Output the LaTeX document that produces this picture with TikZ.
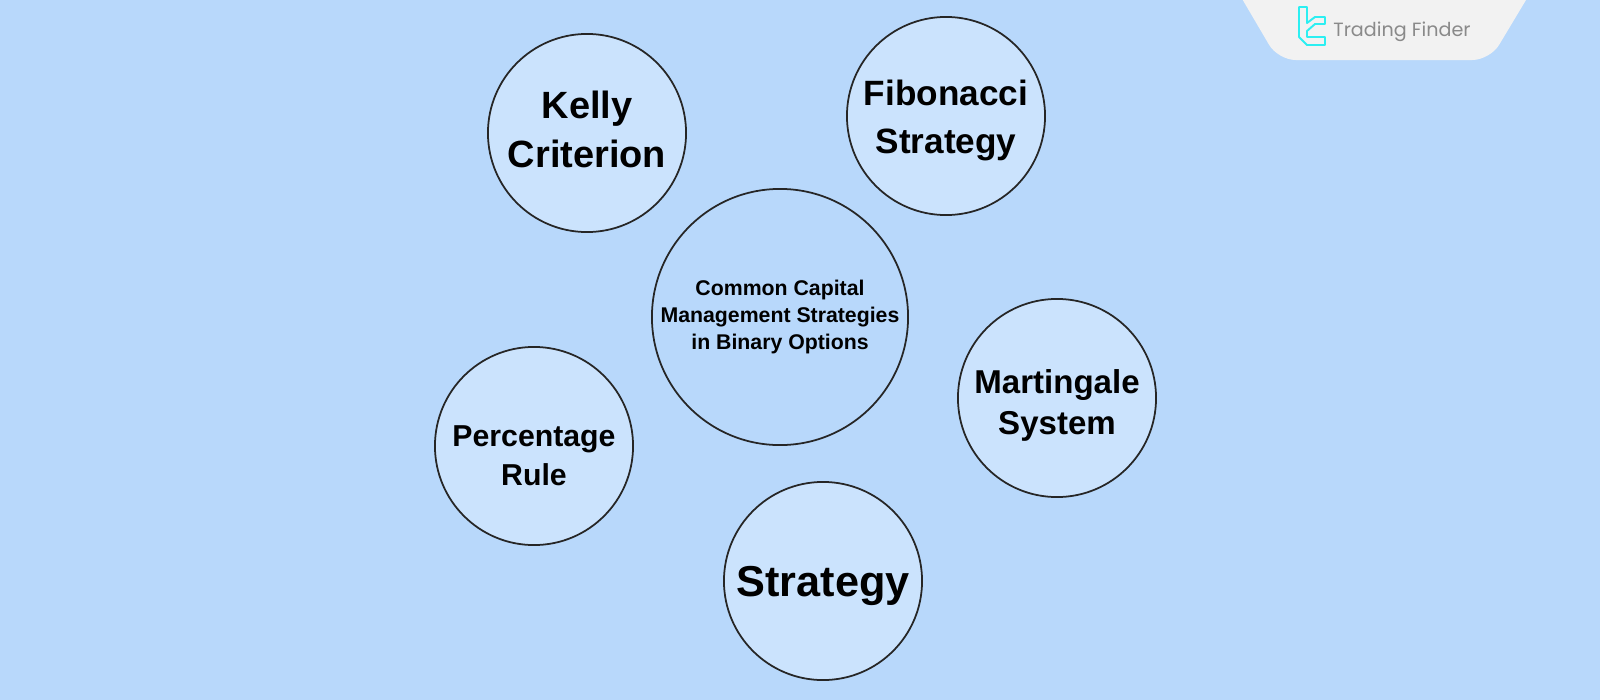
\documentclass[tikz,border=0pt]{standalone}
\usepackage{fontspec}
\setmainfont{Liberation Sans}
\newfontfamily\logofont{Poppins}
\definecolor{skyback}{HTML}{B8D8FB}
\definecolor{circlefill}{HTML}{CBE3FD}
\definecolor{panelgrey}{HTML}{F2F2F2}
\definecolor{logocyan}{HTML}{2CEFF2}
\definecolor{logotext}{HTML}{8A8A8A}

\begin{document}
\begin{tikzpicture}[
    x=0.01cm, y=-0.01cm,
    strategy/.style={circle, draw=black!85, line width=0.5pt, fill=circlefill, minimum size=1.98cm, inner sep=0pt, align=center, text depth=0pt},
    hub/.style={circle, draw=black!85, line width=0.5pt, fill=skyback, minimum size=2.56cm, inner sep=0pt, align=center, font=\bfseries\fontsize{6.05}{7.55}\selectfont},
    logoline/.style={draw=logocyan, line width=0.55pt, line join=round},
]

% background and logo panel
\fill[skyback] (0,0) rectangle (1600,700);
\useasboundingbox (0,0) rectangle (1600,700);
\fill[panelgrey, rounded corners=5pt] (1231,-20) -- (1278,60) -- (1490,60) -- (1538,-20) -- cycle;

% logo
\draw[logoline] (1299,7) -- (1307,7) -- (1307,23) -- (1315,17) -- (1325,17) -- (1325,24) -- (1315,24) -- (1307,31) -- (1307,37) -- (1325,37) -- (1325,45) -- (1307,45) -- (1299,37) -- cycle;
\node[inner sep=0pt, text=logotext, font=\logofont\fontsize{5.45}{6}\selectfont] (logo) at (1402,32) {Trading Finder};

% circles
\node[hub] (center) at (780,317) {Common Capital\\Management Strategies\\in Binary Options};
\node[strategy, text height=19.4pt, font=\bfseries\fontsize{10.8}{13.9}\selectfont] (kelly) at (587,133) {Kelly\\Criterion};
\node[strategy, text height=21.1pt, font=\bfseries\fontsize{10}{13.6}\selectfont] (fibo) at (946,116) {Fibonacci\\Strategy};
\node[strategy, text height=20.6pt, font=\bfseries\fontsize{9.4}{11.6}\selectfont] (marti) at (1057,398) {Martingale\\System};
\node[strategy, text height=22.5pt, font=\bfseries\fontsize{8.6}{11}\selectfont] (percent) at (534,446) {Percentage\\Rule};
\node[strategy, text height=8.7pt, font=\bfseries\fontsize{12.3}{14}\selectfont] (strat) at (823,581) {Strategy};

\end{tikzpicture}
\end{document}
